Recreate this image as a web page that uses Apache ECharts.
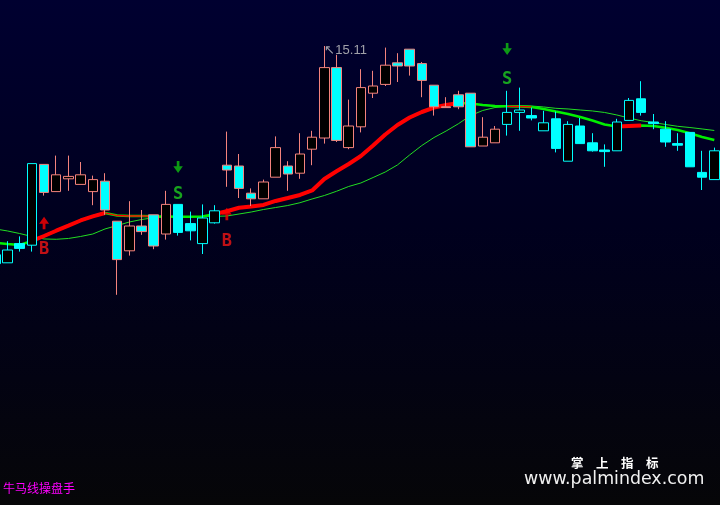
<!DOCTYPE html>
<html><head><meta charset="utf-8">
<script src="https://cdn.jsdelivr.net/npm/echarts@6/dist/echarts.min.js"></script>
<style>
html,body{margin:0;padding:0;background:#000;}
#c{width:720px;height:505px;background:linear-gradient(to bottom,#000030 0%,#00001e 45%,#030312 75%,#060608 100%);}
</style>
</head><body><div id="c"></div>
<script>
const days = ['1','2','3','4','5','6','7','8','9','10','11','12','13','14','15','16','17','18','19','20',
'21','22','23','24','25','26','27','28','29','30','31','32','33','34','35','36','37','38','39','40',
'41','42','43','44','45','46','47','48','49','50','51','52','53','54','55','56','57','58','59','60'];
const opens  = [12.50,12.40,12.64,12.62,13.63,13.29,13.45,13.38,13.29,13.42,12.92,12.55,12.86,13.00,12.76,13.13,12.89,12.64,12.90,13.62,
13.61,13.27,13.20,13.47,13.61,13.52,13.82,13.96,14.84,13.84,14.10,14.52,14.63,14.90,15.07,14.89,14.62,14.35,14.50,14.52,
13.86,13.90,14.13,14.28,14.24,14.05,14.20,13.67,14.11,13.90,13.81,13.80,14.18,14.45,14.16,14.07,13.89,14.03,13.53,13.44];
const closes = [12.39,12.56,12.58,13.64,13.28,13.50,13.48,13.50,13.44,13.06,12.44,12.86,12.79,12.61,13.13,12.78,12.80,12.96,13.05,13.56,
13.33,13.20,13.41,13.84,13.51,13.76,13.97,14.84,13.93,14.11,14.59,14.61,14.87,14.86,14.86,14.68,14.35,14.34,14.35,13.85,
13.97,14.07,14.28,14.31,14.21,14.15,13.83,14.13,13.89,13.80,13.79,14.16,14.43,14.28,14.14,13.91,13.87,13.60,13.47,13.80];
const lows   = [12.36,12.40,12.54,12.54,13.24,13.29,13.30,13.38,13.12,13.00,12.00,12.49,12.75,12.57,12.69,12.74,12.68,12.51,12.89,13.35,
13.21,13.11,13.20,13.47,13.30,13.45,13.62,13.89,13.91,13.82,14.03,14.46,14.61,14.66,14.74,14.47,14.24,14.34,14.32,13.85,
13.86,13.90,13.99,14.05,14.18,14.05,13.78,13.67,13.89,13.79,13.60,13.80,14.18,14.24,14.07,13.85,13.80,13.60,13.31,13.44];
const highs  = [12.56,12.67,12.73,13.64,13.63,13.74,13.74,13.66,13.49,13.52,12.92,13.17,13.06,13.00,13.30,13.13,13.04,13.13,13.12,14.04,
13.76,13.33,13.44,13.98,13.67,14.02,14.05,15.11,15.00,14.44,14.82,14.80,15.09,15.02,15.07,14.91,14.62,14.47,14.55,14.52,
14.22,14.11,14.55,14.59,14.34,14.30,14.29,14.17,14.21,14.02,13.88,14.20,14.46,14.67,14.26,14.17,14.02,14.03,13.80,13.84];
// regime: 1 = long (after B), 0 = short (after S)
const regime = [0,0,0,0,1,1,1,1,1,1,1,1,1,1,1,0,0,0,0,1,
1,1,1,1,1,1,1,1,1,1,1,1,1,1,1,1,1,1,1,1,
1,1,0,0,0,0,0,0,0,0,0,0,0,0,0,0,0,0,0,0];
const fastLine = [12.648,12.635,12.623,12.673,12.735,12.801,12.864,12.929,12.981,13.023,12.991,12.985,12.985,12.981,12.979,12.976,12.976,12.979,13.010,13.044,
13.088,13.104,13.123,13.173,13.210,13.248,13.304,13.448,13.544,13.635,13.735,13.866,14.004,14.123,14.216,14.285,14.341,14.373,14.398,14.391,
14.373,14.360,14.356,14.354,14.348,14.323,14.291,14.260,14.223,14.179,14.129,14.104,14.110,14.116,14.110,14.089,14.060,14.019,13.973,13.935];
const slowLine = [12.823,12.798,12.766,12.729,12.698,12.694,12.704,12.729,12.760,12.823,12.866,12.910,12.941,12.963,12.973,12.976,12.979,12.979,12.981,12.985,
13.010,13.035,13.066,13.091,13.116,13.151,13.198,13.241,13.294,13.354,13.398,13.466,13.535,13.623,13.748,13.866,13.966,14.048,14.138,14.241,
14.304,14.341,14.354,14.363,14.360,14.348,14.331,14.323,14.310,14.298,14.279,14.248,14.210,14.176,14.154,14.129,14.106,14.091,14.073,14.054];
const fastRedRanges = [[3,9],[18,38],[51,53]];
const fastRedThinRanges = [[9,13],[42,44]];
const buyIdx = [4,19];
const buyArrowPrice = [12.898,13.010];
const buyTextPrice = [12.560,12.666];
const sellIdx = [15,42];
const sellArrowPrice = [13.598,15.073];
const sellTextPrice = [13.256,14.695];

const SALMON = '#f4837d', CYAN = '#00ffff', HOLLOW = '#000000';

const candleData = opens.map((o, i) => {
  const edge = regime[i] ? SALMON : CYAN;
  const fill = closes[i] > o ? HOLLOW : CYAN;
  return {
    value: [o, closes[i], lows[i], highs[i]],
    itemStyle: { color: fill, color0: fill, borderColor: edge, borderColor0: edge, borderWidth: 1 }
  };
});
function pick(arr, ranges) {
  return arr.map((v, i) => ranges.some(r => i >= r[0] && i <= r[1]) ? v : null);
}
let maxI = 0;
highs.forEach((h, i) => { if (h > highs[maxI]) maxI = i; });

const upArrow = 'path://M5,0 L10,7 L6.4,7 L6.4,12.5 L3.6,12.5 L3.6,7 L0,7 Z';
const downArrow = 'path://M3.6,0 L6.4,0 L6.4,5.5 L10,5.5 L5,12.5 L0,5.5 L3.6,5.5 Z';

const chart = echarts.init(document.getElementById('c'), null, { renderer: 'canvas' });
chart.setOption({
  animation: false,
  backgroundColor: 'transparent',
  grid: { left: -10.78, width: 731.16, top: 0, height: 505, outerBoundsMode: 'none', containLabel: false },
  xAxis: { type: 'category', data: days, boundaryGap: true, show: false },
  yAxis: { type: 'value', min: 9.3725, max: 15.685, show: false, splitLine: { show: false } },
  series: [
    { type: 'line', data: slowLine, symbol: 'none', z: 1,
      lineStyle: { color: '#22dd22', width: 1 } },
    { type: 'line', data: fastLine, symbol: 'none', z: 1,
      lineStyle: { color: '#00f000', width: 2.5 } },
    { type: 'line', data: pick(fastLine, fastRedRanges), symbol: 'none', z: 1, connectNulls: false,
      lineStyle: { color: '#ff0000', width: 4 } },
    { type: 'line', data: pick(fastLine, fastRedThinRanges), symbol: 'none', z: 1, connectNulls: false,
      lineStyle: { color: '#ff0000', width: 1.3 } },
    { type: 'candlestick', data: candleData, barWidth: 10, z: 2 },
    { type: 'scatter', z: 3, symbol: upArrow, symbolSize: [10, 12.5],
      itemStyle: { color: '#ff0000' },
      data: buyIdx.map((d, k) => [d, buyArrowPrice[k]]) },
    { type: 'scatter', z: 3, symbol: downArrow, symbolSize: [9.5, 12],
      itemStyle: { color: '#10c010' },
      data: sellIdx.map((d, k) => [d, sellArrowPrice[k]]) },
    { type: 'scatter', z: 3, symbolSize: 0,
      label: { show: true, position: 'inside', formatter: 'B', color: '#f01414',
        fontFamily: 'DejaVu Sans Mono', fontWeight: 'bold', fontSize: 17 },
      data: buyIdx.map((d, k) => [d, buyTextPrice[k]]) },
    { type: 'scatter', z: 3, symbolSize: 0,
      label: { show: true, position: 'inside', formatter: 'S', color: '#1ecc1e',
        fontFamily: 'DejaVu Sans Mono', fontWeight: 'bold', fontSize: 17 },
      data: sellIdx.map((d, k) => [d, sellTextPrice[k]]) },
    { type: 'scatter', z: 3, symbolSize: 0,
      label: { show: true, position: [0, -2], align: 'left', verticalAlign: 'top',
        formatter: p => '↖' + p.value[1].toFixed(2), color: '#c8c8c8',
        fontFamily: 'Liberation Sans', fontSize: 13 },
      data: [[maxI, highs[maxI]]] }
  ],
  graphic: [
    { type: 'text', left: 3, top: 482, style: { text: '牛马线操盘手', fill: '#ff00ff', font: '12px "Noto Sans CJK SC"' } },
    { type: 'text', left: 571, top: 457, style: { text: '掌　上　指　标', fill: '#ffffff', font: 'bold 12.5px "Noto Sans CJK SC"' } },
    { type: 'text', left: 524, top: 471, style: { text: 'www.palmindex.com', fill: '#f0f0f0', font: '17.4px "DejaVu Sans"' } }
  ]
});
</script>
</body></html>
